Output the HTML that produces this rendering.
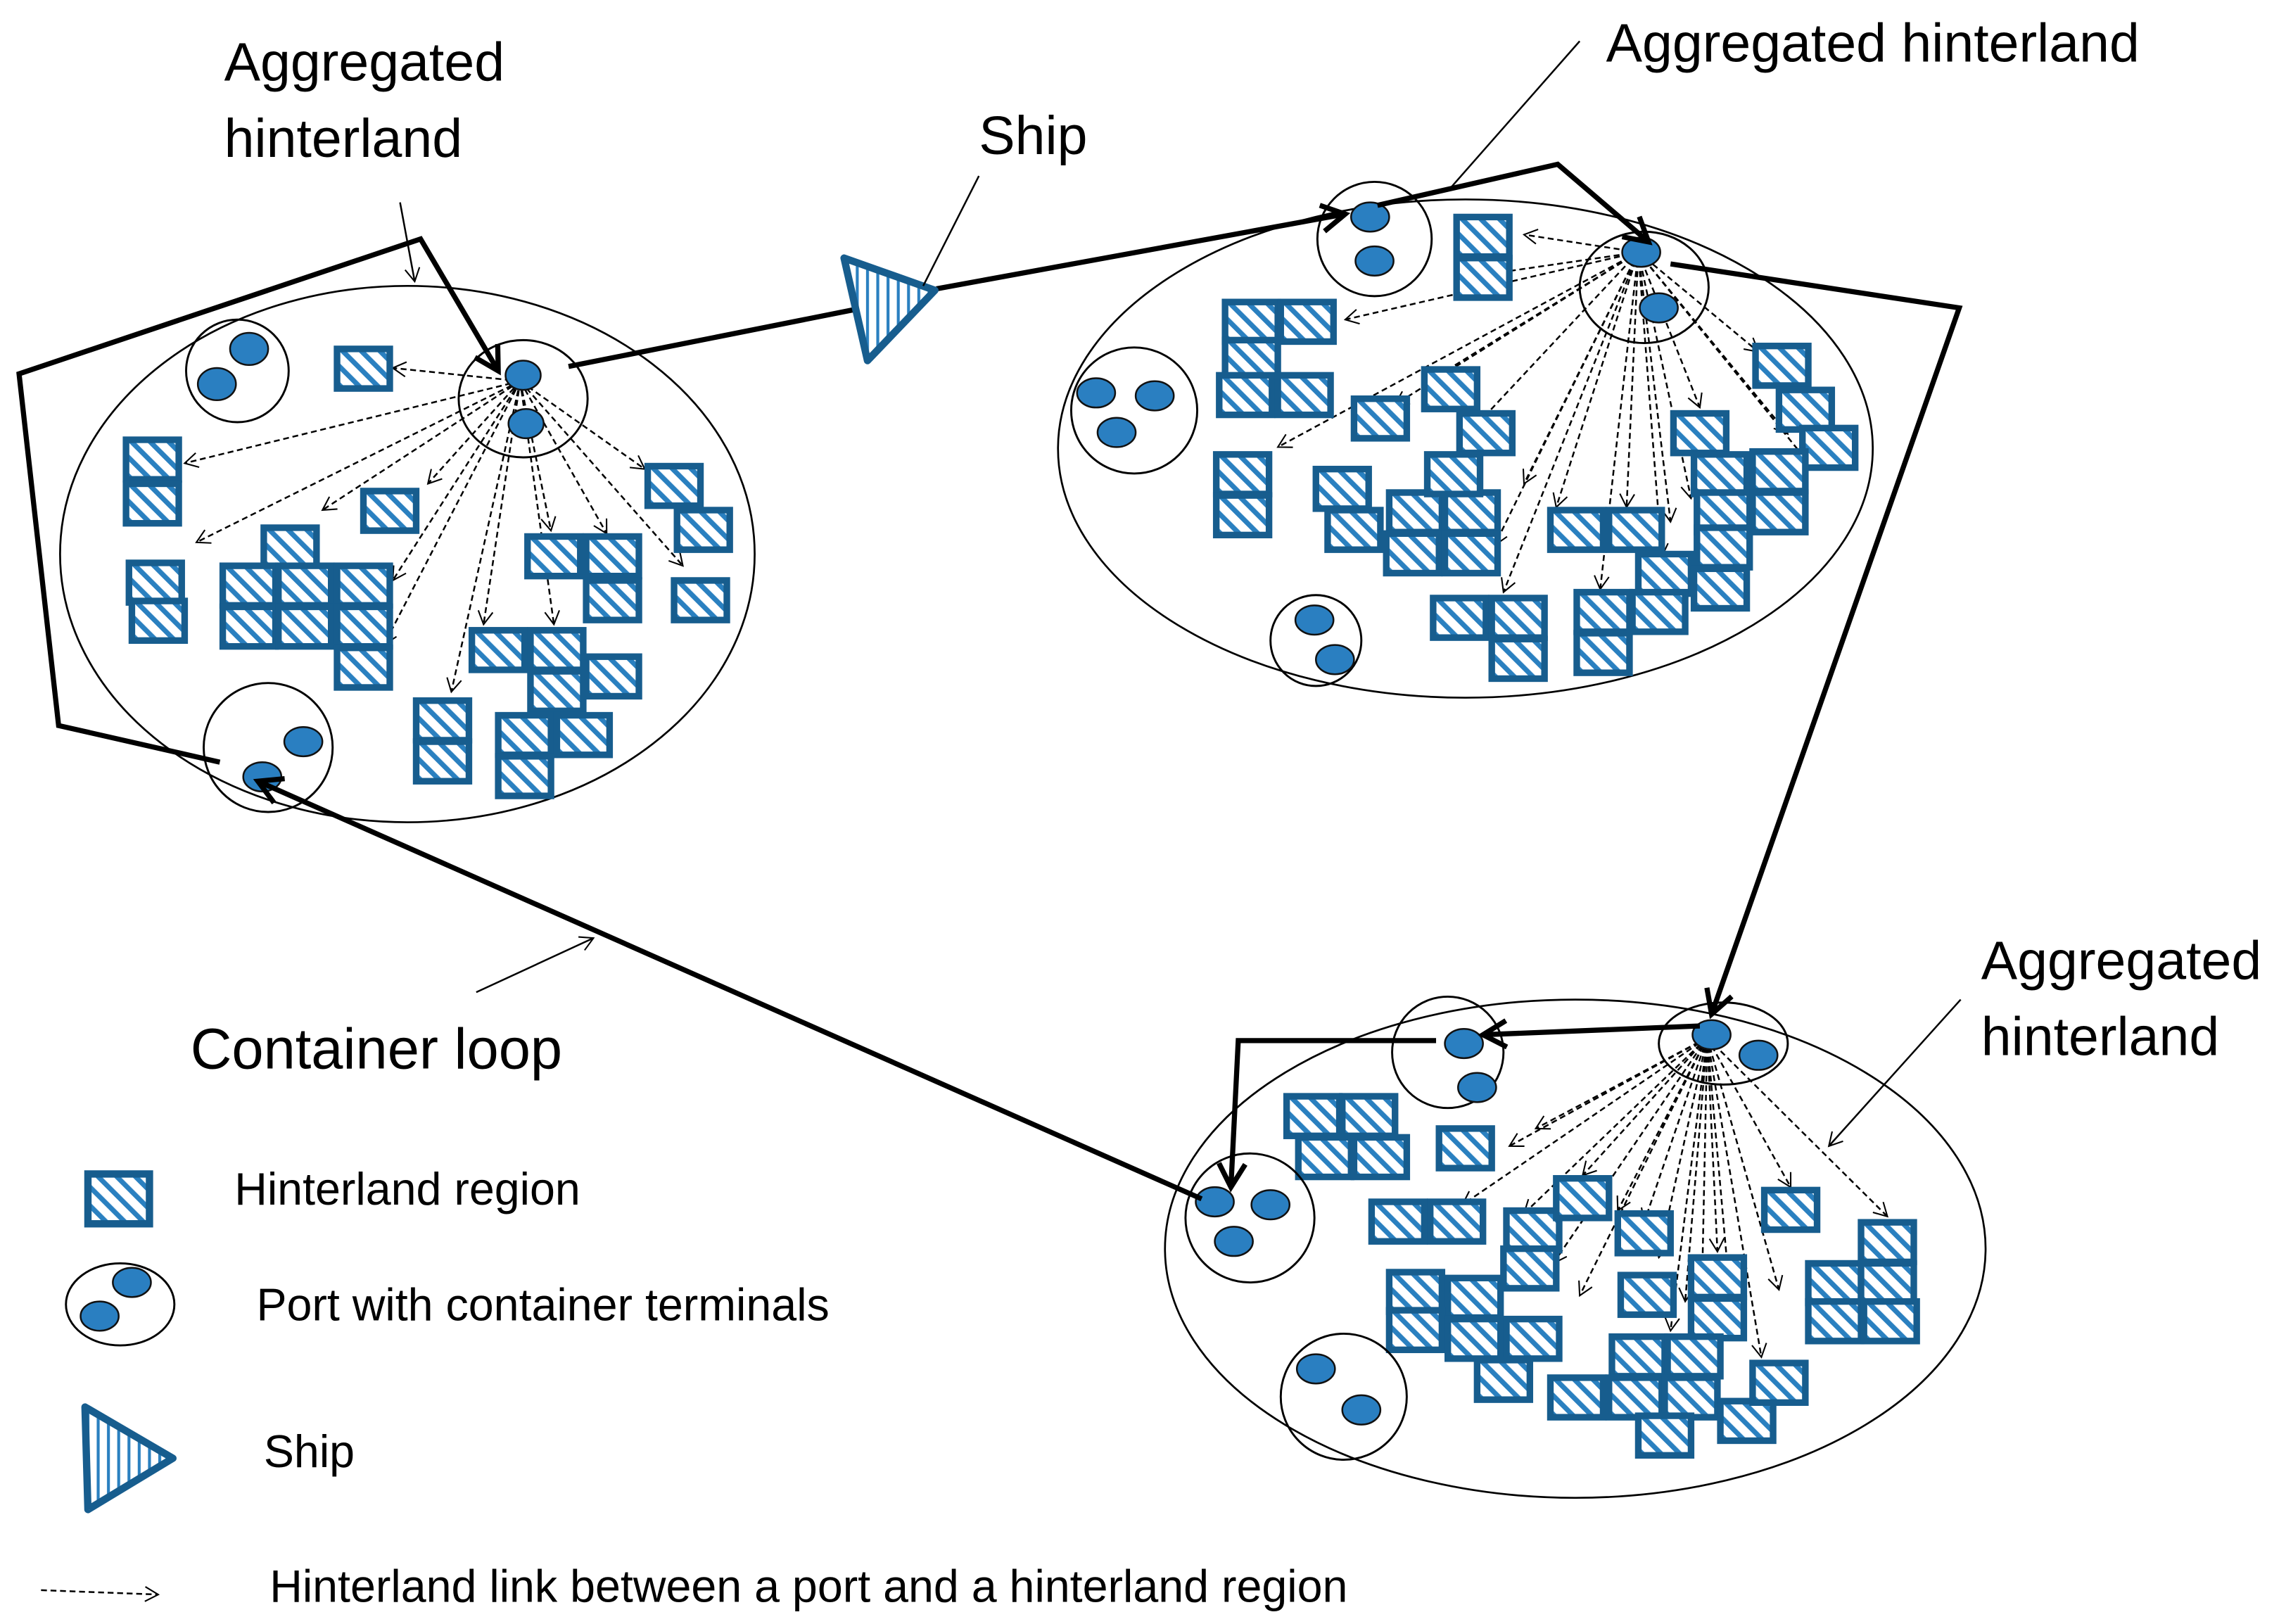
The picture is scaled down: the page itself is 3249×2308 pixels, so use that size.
<!DOCTYPE html>
<html><head><meta charset="utf-8"><style>
html,body{margin:0;padding:0;background:#fff}
svg{display:block}
text{font-family:"Liberation Sans",sans-serif;fill:#000}
</style></head><body>
<svg width="3249" height="2308" viewBox="0 0 1560 1108" xmlns="http://www.w3.org/2000/svg">
<defs>
<pattern id="h" patternUnits="userSpaceOnUse" width="9" height="9" patternTransform="rotate(-45)">
<rect width="9" height="9" fill="#fff"/><rect width="3.4" height="9" fill="#2a80c0"/>
</pattern>
<pattern id="v" patternUnits="userSpaceOnUse" width="7" height="10">
<rect width="7" height="10" fill="#fff"/><rect x="3" width="2" height="10" fill="#2a80c0"/>
</pattern>
<marker id="a" markerWidth="12" markerHeight="12" refX="10" refY="6" orient="auto" markerUnits="userSpaceOnUse">
<path d="M1,1 L10,6 L1,11" fill="none" stroke="#000" stroke-width="1"/>
</marker>
<marker id="b" markerWidth="22" markerHeight="22" refX="18" refY="11" orient="auto" markerUnits="userSpaceOnUse">
<path d="M2,2 L18,11 L2,20" fill="none" stroke="#000" stroke-width="3.5"/>
</marker>
<g id="bx"><rect x="0" y="0" width="36" height="27" fill="url(#h)" stroke="#175d8e" stroke-width="4.5"/></g>
</defs>

<g fill="none" stroke="#000" stroke-width="1.3">
<ellipse cx="278" cy="378" rx="237" ry="183"/>
<ellipse cx="1000" cy="306" rx="278" ry="170"/>
<ellipse cx="1075" cy="852" rx="280" ry="170"/>
</g>

<g stroke="#000" stroke-width="1.2" stroke-dasharray="4,2.5" fill="none" marker-end="url(#a)">
<line x1="355" y1="260" x2="268" y2="251"/>
<line x1="355" y1="260" x2="126" y2="316"/>
<line x1="355" y1="260" x2="134" y2="370"/>
<line x1="355" y1="260" x2="220" y2="348"/>
<line x1="355" y1="260" x2="292" y2="330"/>
<line x1="355" y1="260" x2="268" y2="396"/>
<line x1="355" y1="260" x2="262" y2="440"/>
<line x1="355" y1="260" x2="308" y2="472"/>
<line x1="355" y1="260" x2="330" y2="426"/>
<line x1="355" y1="260" x2="376" y2="362"/>
<line x1="355" y1="260" x2="378" y2="426"/>
<line x1="355" y1="260" x2="414" y2="364"/>
<line x1="355" y1="260" x2="440" y2="320"/>
<line x1="355" y1="260" x2="466" y2="386"/>

<line x1="1118" y1="172" x2="1040" y2="160"/>
<line x1="1118" y1="172" x2="1022" y2="186"/>
<line x1="1118" y1="172" x2="918" y2="218"/>
<line x1="1118" y1="172" x2="872" y2="305"/>
<line x1="1118" y1="172" x2="952" y2="276"/>
<line x1="1118" y1="172" x2="972" y2="262"/>
<line x1="1118" y1="172" x2="1000" y2="298"/>
<line x1="1118" y1="172" x2="1040" y2="330"/>
<line x1="1118" y1="172" x2="1020" y2="372"/>
<line x1="1118" y1="172" x2="1062" y2="346"/>
<line x1="1118" y1="172" x2="1110" y2="346"/>
<line x1="1118" y1="172" x2="1140" y2="356"/>
<line x1="1118" y1="172" x2="1154" y2="340"/>
<line x1="1118" y1="172" x2="1160" y2="278"/>
<line x1="1118" y1="172" x2="1200" y2="240"/>
<line x1="1118" y1="172" x2="1220" y2="296"/>
<line x1="1118" y1="172" x2="1236" y2="318"/>
<line x1="1118" y1="172" x2="1092" y2="402"/>
<line x1="1118" y1="172" x2="1134" y2="380"/>
<line x1="1118" y1="172" x2="1026" y2="404"/>

<line x1="1165" y1="708" x2="1048" y2="770"/>
<line x1="1165" y1="708" x2="1030" y2="782"/>
<line x1="1165" y1="708" x2="998" y2="822"/>
<line x1="1165" y1="708" x2="1040" y2="828"/>
<line x1="1165" y1="708" x2="1080" y2="802"/>
<line x1="1165" y1="708" x2="1060" y2="862"/>
<line x1="1165" y1="708" x2="1078" y2="884"/>
<line x1="1165" y1="708" x2="1104" y2="826"/>
<line x1="1165" y1="708" x2="1122" y2="834"/>
<line x1="1165" y1="708" x2="1132" y2="858"/>
<line x1="1165" y1="708" x2="1140" y2="908"/>
<line x1="1165" y1="708" x2="1150" y2="888"/>
<line x1="1165" y1="708" x2="1172" y2="854"/>
<line x1="1165" y1="708" x2="1182" y2="900"/>
<line x1="1165" y1="708" x2="1202" y2="926"/>
<line x1="1165" y1="708" x2="1222" y2="810"/>
<line x1="1165" y1="708" x2="1214" y2="880"/>
<line x1="1165" y1="708" x2="1288" y2="830"/>
<line x1="1165" y1="708" x2="1160" y2="950"/>
</g>

<g>
<use href="#bx" x="230" y="238"/><use href="#bx" x="86" y="300"/><use href="#bx" x="86" y="330"/>
<use href="#bx" x="248" y="335"/><use href="#bx" x="442" y="318"/><use href="#bx" x="462" y="348"/>
<use href="#bx" x="180" y="360"/><use href="#bx" x="88" y="384"/><use href="#bx" x="90" y="410"/>
<use href="#bx" x="152" y="386"/><use href="#bx" x="190" y="386"/><use href="#bx" x="230" y="386"/>
<use href="#bx" x="152" y="414"/><use href="#bx" x="190" y="414"/><use href="#bx" x="230" y="414"/>
<use href="#bx" x="230" y="442"/><use href="#bx" x="360" y="366"/><use href="#bx" x="400" y="366"/>
<use href="#bx" x="400" y="396"/><use href="#bx" x="460" y="396"/><use href="#bx" x="322" y="430"/>
<use href="#bx" x="362" y="430"/><use href="#bx" x="362" y="458"/><use href="#bx" x="400" y="448"/>
<use href="#bx" x="284" y="478"/><use href="#bx" x="284" y="506"/><use href="#bx" x="340" y="488"/>
<use href="#bx" x="380" y="488"/><use href="#bx" x="340" y="516"/>

<use href="#bx" x="994" y="148"/><use href="#bx" x="994" y="176"/><use href="#bx" x="836" y="206"/>
<use href="#bx" x="874" y="206"/><use href="#bx" x="836" y="232"/><use href="#bx" x="832" y="256"/>
<use href="#bx" x="872" y="256"/><use href="#bx" x="924" y="272"/><use href="#bx" x="972" y="252"/>
<use href="#bx" x="996" y="282"/><use href="#bx" x="830" y="310"/><use href="#bx" x="830" y="338"/>
<use href="#bx" x="898" y="320"/><use href="#bx" x="906" y="348"/><use href="#bx" x="948" y="336"/>
<use href="#bx" x="986" y="336"/><use href="#bx" x="974" y="310"/><use href="#bx" x="946" y="364"/>
<use href="#bx" x="986" y="364"/><use href="#bx" x="1198" y="236"/><use href="#bx" x="1214" y="266"/>
<use href="#bx" x="1230" y="292"/><use href="#bx" x="1142" y="282"/><use href="#bx" x="1156" y="310"/>
<use href="#bx" x="1196" y="308"/><use href="#bx" x="1158" y="336"/><use href="#bx" x="1196" y="336"/>
<use href="#bx" x="1058" y="348"/><use href="#bx" x="1098" y="348"/><use href="#bx" x="1118" y="378"/>
<use href="#bx" x="1158" y="360"/><use href="#bx" x="1156" y="388"/><use href="#bx" x="978" y="408"/>
<use href="#bx" x="1018" y="408"/><use href="#bx" x="1018" y="436"/><use href="#bx" x="1076" y="404"/>
<use href="#bx" x="1114" y="404"/><use href="#bx" x="1076" y="432"/>

<use href="#bx" x="878" y="748"/><use href="#bx" x="916" y="748"/><use href="#bx" x="886" y="776"/>
<use href="#bx" x="924" y="776"/><use href="#bx" x="982" y="770"/><use href="#bx" x="936" y="820"/>
<use href="#bx" x="976" y="820"/><use href="#bx" x="1028" y="826"/><use href="#bx" x="1062" y="804"/>
<use href="#bx" x="1104" y="828"/><use href="#bx" x="1026" y="852"/><use href="#bx" x="948" y="868"/>
<use href="#bx" x="988" y="872"/><use href="#bx" x="948" y="894"/><use href="#bx" x="988" y="900"/>
<use href="#bx" x="1028" y="900"/><use href="#bx" x="1008" y="928"/><use href="#bx" x="1106" y="870"/>
<use href="#bx" x="1154" y="858"/><use href="#bx" x="1154" y="886"/><use href="#bx" x="1204" y="812"/>
<use href="#bx" x="1270" y="834"/><use href="#bx" x="1234" y="862"/><use href="#bx" x="1270" y="862"/>
<use href="#bx" x="1234" y="888"/><use href="#bx" x="1272" y="888"/><use href="#bx" x="1100" y="912"/>
<use href="#bx" x="1138" y="912"/><use href="#bx" x="1058" y="940"/><use href="#bx" x="1098" y="940"/>
<use href="#bx" x="1136" y="940"/><use href="#bx" x="1118" y="966"/><use href="#bx" x="1174" y="956"/>
<use href="#bx" x="1196" y="930"/>
</g>

<g fill="none" stroke="#000" stroke-width="1.4">
<circle cx="162" cy="253" r="35"/><ellipse cx="357" cy="272" rx="44" ry="40"/>
<circle cx="183" cy="510" r="44"/>
<circle cx="938" cy="163" r="39"/><ellipse cx="1122" cy="196" rx="44" ry="38"/>
<circle cx="774" cy="280" r="43"/><circle cx="898" cy="437" r="31"/>
<circle cx="988" cy="718" r="38"/><ellipse cx="1176" cy="712" rx="44" ry="28"/>
<circle cx="853" cy="831" r="44"/><circle cx="917" cy="953" r="43"/>
<ellipse cx="82" cy="890" rx="37" ry="28"/>
</g>
<g fill="#2a7fc1" stroke="#111" stroke-width="1.2">
<ellipse cx="170" cy="238" rx="13" ry="11"/><ellipse cx="148" cy="262" rx="13" ry="11"/>
<ellipse cx="357" cy="256" rx="12" ry="10"/><ellipse cx="359" cy="289" rx="12" ry="10"/>
<ellipse cx="207" cy="506" rx="13" ry="10"/><ellipse cx="179" cy="530" rx="13" ry="10"/>
<ellipse cx="935" cy="148" rx="13" ry="10"/><ellipse cx="938" cy="178" rx="13" ry="10"/>
<ellipse cx="1120" cy="172" rx="13" ry="10"/><ellipse cx="1132" cy="210" rx="13" ry="10"/>
<ellipse cx="748" cy="268" rx="13" ry="10"/><ellipse cx="788" cy="270" rx="13" ry="10"/><ellipse cx="762" cy="295" rx="13" ry="10"/>
<ellipse cx="897" cy="423" rx="13" ry="10"/><ellipse cx="911" cy="450" rx="13" ry="10"/>
<ellipse cx="999" cy="712" rx="13" ry="10"/><ellipse cx="1008" cy="742" rx="13" ry="10"/>
<ellipse cx="1168" cy="706" rx="13" ry="10"/><ellipse cx="1200" cy="720" rx="13" ry="10"/>
<ellipse cx="829" cy="820" rx="13" ry="10"/><ellipse cx="867" cy="822" rx="13" ry="10"/><ellipse cx="842" cy="847" rx="13" ry="10"/>
<ellipse cx="898" cy="934" rx="13" ry="10"/><ellipse cx="929" cy="962" rx="13" ry="10"/>
<ellipse cx="90" cy="875" rx="13" ry="10"/><ellipse cx="68" cy="898" rx="13" ry="10"/>
</g>

<g stroke="#000" stroke-width="3.5" fill="none" stroke-linejoin="miter">
<line x1="388" y1="250" x2="584" y2="211"/>
<line x1="639" y1="197" x2="918" y2="146" marker-end="url(#b)"/>
<polyline points="940,140 1063,112 1125,165" marker-end="url(#b)"/>
<polyline points="1140,180 1337,210 1168,692" marker-end="url(#b)"/>
<line x1="1160" y1="700" x2="1012" y2="706" marker-end="url(#b)"/>
<polyline points="980,710 845,710 840,810" marker-end="url(#b)"/>
<line x1="820" y1="818" x2="176" y2="533" marker-end="url(#b)"/>
<polyline points="150,520 40,495 13,255 287,163 340,253" marker-end="url(#b)"/>
</g>

<polygon points="576,176 638,198 592,246" fill="url(#v)" stroke="#175d8e" stroke-width="5" stroke-linejoin="round"/>

<g stroke="#000" stroke-width="1.2" fill="none">
<line x1="273" y1="138" x2="283" y2="192" marker-end="url(#a)"/>
<line x1="1078" y1="28" x2="990" y2="128"/>
<line x1="668" y1="120" x2="630" y2="195"/>
<line x1="325" y1="677" x2="405" y2="640" marker-end="url(#a)"/>
<line x1="1338" y1="682" x2="1248" y2="782" marker-end="url(#a)"/>
<line x1="28" y1="1085" x2="108" y2="1088" stroke-dasharray="4,2.5" marker-end="url(#a)"/>
</g>

<rect x="60" y="801" width="42" height="34" fill="url(#h)" stroke="#175d8e" stroke-width="5"/>
<polygon points="58,960 118,995 60,1030" fill="url(#v)" stroke="#175d8e" stroke-width="5" stroke-linejoin="round"/>

<g font-size="37">
<text x="153" y="55">Aggregated</text>
<text x="153" y="107">hinterland</text>
<text x="668" y="105">Ship</text>
<text x="1096" y="42">Aggregated hinterland</text>
<text x="1352" y="668">Aggregated</text>
<text x="1352" y="720">hinterland</text>
<text x="130" y="729" font-size="39">Container loop</text>
</g>
<g font-size="31">
<text x="160" y="822">Hinterland region</text>
<text x="175" y="901">Port with container terminals</text>
<text x="180" y="1001">Ship</text>
<text x="184" y="1093">Hinterland link between a port and a hinterland region</text>
</g>
</svg>
</body></html>
